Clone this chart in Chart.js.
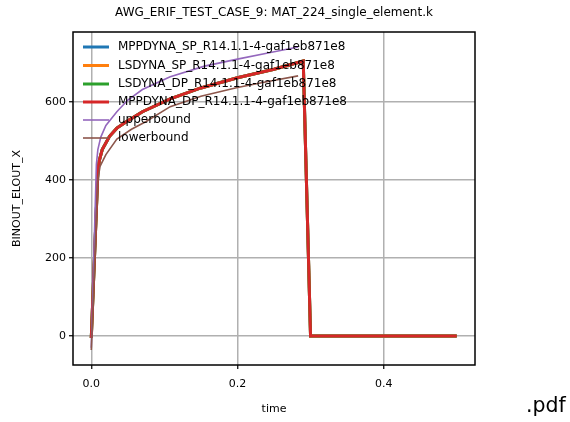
<!DOCTYPE html>
<html>
<head>
<meta charset="utf-8">
<script src="https://cdn.jsdelivr.net/npm/chart.js@4/dist/chart.umd.min.js"></script>
<style>
  html, body { margin: 0; padding: 0; background: #fff; }
  #wrap { width: 570px; height: 422px; position: relative; }
</style>
</head>
<body>
<div id="wrap"><canvas id="c" width="570" height="422"></canvas></div>
<script>
// ---- data ----
const chartTitle = "AWG_ERIF_TEST_CASE_9: MAT_224_single_element.k";
const xLabel = "time";
const yLabel = "BINOUT_ELOUT_X";
const xTicks = [0, 0.2, 0.4];
const yTicks = [0, 200, 400, 600];

const seriesNames = [
  "MPPDYNA_SP_R14.1.1-4-gaf1eb871e8",
  "LSDYNA_SP_R14.1.1-4-gaf1eb871e8",
  "LSDYNA_DP_R14.1.1-4-gaf1eb871e8",
  "MPPDYNA_DP_R14.1.1-4-gaf1eb871e8",
  "upperbound",
  "lowerbound"
];

const simTime  = [0, 0.009, 0.011, 0.015, 0.025, 0.035, 0.05, 0.07, 0.108, 0.15, 0.2, 0.25, 0.29, 0.3, 0.35, 0.4, 0.45, 0.5];
const mppSpVal = [-5, 420, 450, 478, 512, 533, 552, 575, 608, 636, 662, 684, 705, 0, 0, 0, 0, 0];
const lsSpVal  = [-5, 420, 450, 478, 512, 533, 552, 575, 608, 636, 662, 684, 705, 0, 0, 0, 0, 0];
const lsDpVal  = [-5, 420, 450, 478, 512, 533, 552, 575, 608, 636, 662, 684, 705, 0, 0, 0, 0, 0];
const mppDpVal = [-5, 420, 450, 478, 512, 533, 552, 575, 608, 636, 662, 684, 705, 0, 0, 0, 0, 0];

const upperTime = [0, 0.007, 0.009, 0.013, 0.02, 0.035, 0.05, 0.07, 0.108, 0.155, 0.2, 0.24, 0.283];
const upperVal  = [-30, 440, 478, 510, 540, 575, 605, 632, 665, 692, 710, 725, 741];

const lowerTime = [0, 0.009, 0.012, 0.02, 0.035, 0.055, 0.075, 0.108, 0.15, 0.2, 0.24, 0.283];
const lowerVal  = [-36, 400, 435, 465, 505, 530, 550, 588, 615, 637, 652, 667];

const colors = ["#1f77b4", "#ff7f0e", "#2ca02c", "#d62728", "#9467bd", "#8c564b"];
const widths = [3, 3, 3, 3, 1.6, 1.6];

function pts(xs, ys) { return xs.map((x, i) => ({ x: x, y: ys[i] })); }
const dataSets = [
  pts(simTime, mppSpVal), pts(simTime, lsSpVal), pts(simTime, lsDpVal), pts(simTime, mppDpVal),
  pts(upperTime, upperVal), pts(lowerTime, lowerVal)
];

const FONT = "'DejaVu Sans', sans-serif";

const overlay = {
  id: 'overlay',
  afterDraw(chart) {
    const ctx = chart.ctx;
    const a = chart.chartArea;
    ctx.save();
    // frame
    ctx.strokeStyle = '#000';
    ctx.lineWidth = 1.5;
    ctx.strokeRect(a.left, a.top, a.right - a.left, a.bottom - a.top);
    // title
    ctx.fillStyle = '#000';
    ctx.font = "12px " + FONT;
    ctx.textAlign = 'center';
    ctx.textBaseline = 'middle';
    ctx.fillText(chartTitle, (a.left + a.right) / 2, 13);
    // axis labels
    ctx.font = "11px " + FONT;
    ctx.fillText(xLabel, (a.left + a.right) / 2, 409);
    ctx.save();
    ctx.translate(17, (a.top + a.bottom) / 2);
    ctx.rotate(-Math.PI / 2);
    ctx.fillText(yLabel, 0, 0);
    ctx.restore();
    // legend
    ctx.textAlign = 'left';
    ctx.font = "12px " + FONT;
    const rowY = [47, 65.5, 84, 102, 120, 138];
    seriesNames.forEach((n, i) => {
      ctx.strokeStyle = colors[i];
      ctx.lineWidth = widths[i];
      ctx.beginPath();
      ctx.moveTo(83, rowY[i]);
      ctx.lineTo(109, rowY[i]);
      ctx.stroke();
      ctx.fillStyle = '#000';
      ctx.fillText(n, 118, rowY[i]);
    });
    // .pdf
    ctx.font = "20.5px " + FONT;
    ctx.fillText(".pdf", 526, 407);
    ctx.restore();
  }
};

new Chart(document.getElementById('c'), {
  type: 'scatter',
  data: {
    datasets: dataSets.map((d, i) => ({
      label: seriesNames[i],
      data: d,
      showLine: true,
      borderColor: colors[i],
      backgroundColor: colors[i],
      borderWidth: widths[i],
      pointRadius: 0,
      pointHoverRadius: 0,
      tension: 0,
      fill: false,
      order: 6 - i
    }))
  },
  options: {
    responsive: false,
    animation: false,
    events: [],
    layout: { padding: { top: 32, right: 95, left: 0, bottom: 0 } },
    plugins: { legend: { display: false }, title: { display: false }, tooltip: { enabled: false } },
    scales: {
      x: {
        type: 'linear',
        min: -0.025, max: 0.525,
        afterBuildTicks(s) { s.ticks = xTicks.map(v => ({ value: v })); },
        afterFit(s) { s.height = 57; },
        ticks: {
          color: '#000', font: { size: 11, family: FONT }, padding: 9,
          maxRotation: 0, autoSkip: false,
          callback: v => Number(v).toFixed(1)
        },
        grid: { color: '#b0b0b0', lineWidth: 1.5, tickColor: '#000', tickLength: 4, tickWidth: 1.2 },
        border: { display: false }
      },
      y: {
        type: 'linear',
        min: -74.4, max: 779.5,
        afterBuildTicks(s) { s.ticks = yTicks.map(v => ({ value: v })); },
        afterFit(s) { s.width = 73; },
        ticks: {
          color: '#000', font: { size: 11, family: FONT }, padding: 3,
          autoSkip: false,
          callback: v => String(v)
        },
        grid: { color: '#b0b0b0', lineWidth: 1.5, tickColor: '#000', tickLength: 4, tickWidth: 1.2 },
        border: { display: false }
      }
    }
  },
  plugins: [overlay]
});
</script>
</body>
</html>
